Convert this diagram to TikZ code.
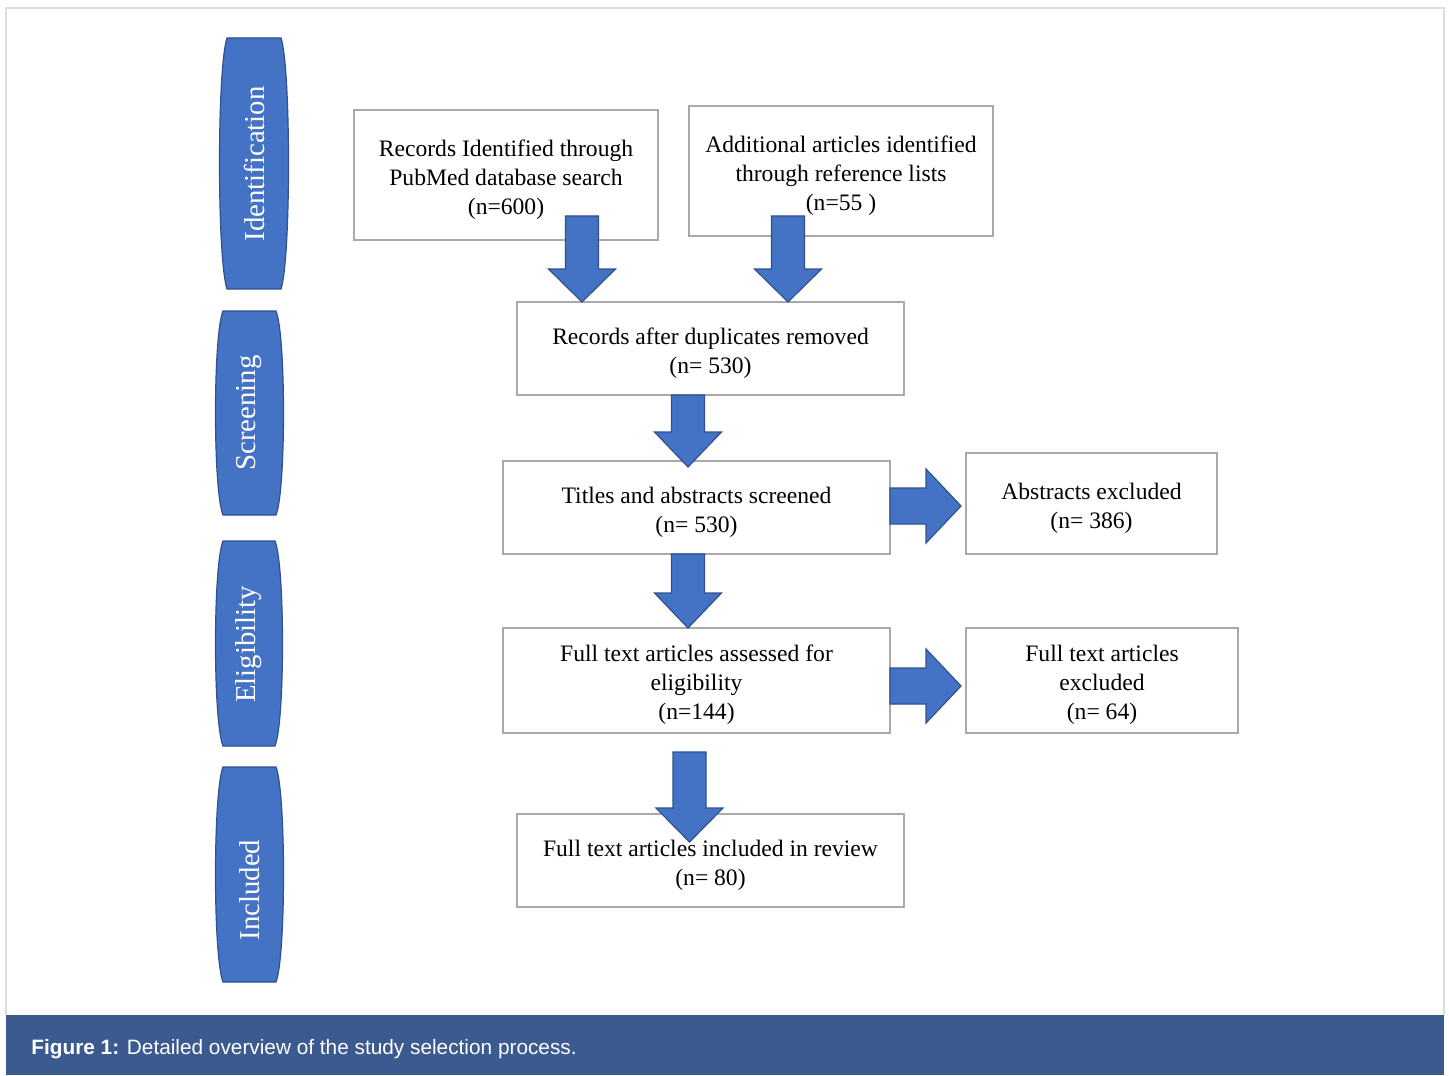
\documentclass[tikz,border=0pt]{standalone}
\usepackage{fontspec}
\setmainfont{Liberation Serif}
\newfontfamily\capfont{Liberation Sans}
\definecolor{blk}{HTML}{4472C4}
\definecolor{blkedge}{HTML}{2F528F}
\definecolor{boxedge}{HTML}{A9A9A9}
\definecolor{capbg}{HTML}{3B5A8F}
\definecolor{framecol}{HTML}{DCDCDC}
\tikzset{
  blockarrow/.style={fill=blk, draw=blkedge, line width=0.6pt, line join=miter},
  sidebox/.style={fill=blk, draw=blkedge, line width=0.6pt},
  sidetext/.style={text=white, rotate=90, font=\fontsize{14.4}{16}\selectfont},
  flowbox/.style={draw=boxedge, line width=1pt, inner sep=0pt},
  flowtext/.style={align=center, inner sep=0pt, font=\fontsize{11.8}{14.5}\selectfont},
}
\newcommand{\DArr}[4]{\draw[blockarrow] ({#1-16.5},#2) -- ({#1+16.5},#2) -- ({#1+16.5},#3) -- ({#1+33.5},#3) -- (#1,#4) -- ({#1-33.5},#3) -- ({#1-16.5},#3) -- cycle;}
\newcommand{\RArr}[4]{\draw[blockarrow] (#2,{#1-18}) -- (#3,{#1-18}) -- (#3,{#1-37}) -- (#4,#1) -- (#3,{#1+37}) -- (#3,{#1+18}) -- (#2,{#1+18}) -- cycle;}
\newcommand{\SideShape}[4]{\draw[sidebox] ({#1+7},#2) -- ({#3-7},#2) .. controls ({#3+3},{#2+0.12*(#4-#2)}) and ({#3+3},{#4-0.12*(#4-#2)}) .. ({#3-7},#4) -- ({#1+7},#4) .. controls ({#1-3},{#4-0.12*(#4-#2)}) and ({#1-3},{#2+0.12*(#4-#2)}) .. cycle;}
\begin{document}
\begin{tikzpicture}[x=0.5pt,y=-0.5pt]
\useasboundingbox (0,0) rectangle (1449,1075);
\fill[white] (0,0) rectangle (1449,1075);
\draw[framecol, line width=0.6pt] (6,1015) -- (6,8) -- (1444,8) -- (1444,1015);
% side labels
\SideShape{220}{38}{288}{289}
\node[sidetext] (lid) at (254,164) {Identification};
\SideShape{216}{311}{283}{515}
\node[sidetext] (lsc) at (249.5,413) {Screening};
\SideShape{216}{541}{282}{746}
\node[sidetext] (lel) at (249,644.5) {Eligibility};
\SideShape{216}{767}{283}{982}
\node[sidetext] (lin) at (249.5,890) {Included};
% boxes
\node[flowbox, minimum width=152pt, minimum height=65pt] (b1) at (506,175) {};
\node[flowbox, minimum width=152pt, minimum height=65pt] (b2) at (841,171) {};
\node[flowbox, minimum width=193.5pt, minimum height=46.5pt] (b3) at (710.5,348.5) {};
\node[flowbox, minimum width=193.5pt, minimum height=46.5pt] (b4) at (696.5,507.5) {};
\node[flowbox, minimum width=125.5pt, minimum height=50.5pt] (b5) at (1091.5,503.5) {};
\node[flowbox, minimum width=193.5pt, minimum height=52.5pt] (b6) at (696.5,680.5) {};
\node[flowbox, minimum width=136pt, minimum height=52.5pt] (b7) at (1102,680.5) {};
\node[flowbox, minimum width=193.5pt, minimum height=46.5pt] (b8) at (710.5,860.5) {};
% box texts
\node[flowtext] (t1) at ([yshift=-2.2pt]b1.center) {Records Identified through\\PubMed database search\\(n=600)};
\node[flowtext] (t2) at ([yshift=-2.2pt]b2.center) {Additional articles identified\\through reference lists\\(n=55 )};
\node[flowtext] (t3) at ([yshift=-2.4pt]b3.center) {Records after duplicates removed\\(n= 530)};
\node[flowtext] (t4) at ([yshift=-2.4pt]b4.center) {Titles and abstracts screened\\(n= 530)};
\node[flowtext] (t5) at ([yshift=-2.6pt]b5.center) {Abstracts excluded\\(n= 386)};
\node[flowtext] (t6) at ([yshift=-2.2pt]b6.center) {Full text articles assessed for\\eligibility\\(n=144)};
\node[flowtext] (t7) at ([yshift=-2.2pt]b7.center) {Full text articles\\excluded\\(n= 64)};
\node[flowtext] (t8) at ([yshift=-2.3pt]b8.center) {Full text articles included in review\\(n= 80)};
% block arrows
\DArr{582}{216}{269}{302}
\DArr{788}{216}{269}{302}
\DArr{688}{395}{432}{467}
\DArr{688}{554}{593}{628}
\DArr{689.5}{752}{808}{842}
\RArr{506}{890}{926}{961}
\RArr{686}{890}{926}{961}
% caption
\fill[capbg] (6,1015) rectangle (1444,1075);
\node[anchor=west, text=white, inner sep=0pt, font=\capfont\fontsize{10.4}{12}\selectfont] (cap) at (31,1049) {\textbf{Figure 1:} Detailed overview of the study selection process.};
\end{tikzpicture}
\end{document}
